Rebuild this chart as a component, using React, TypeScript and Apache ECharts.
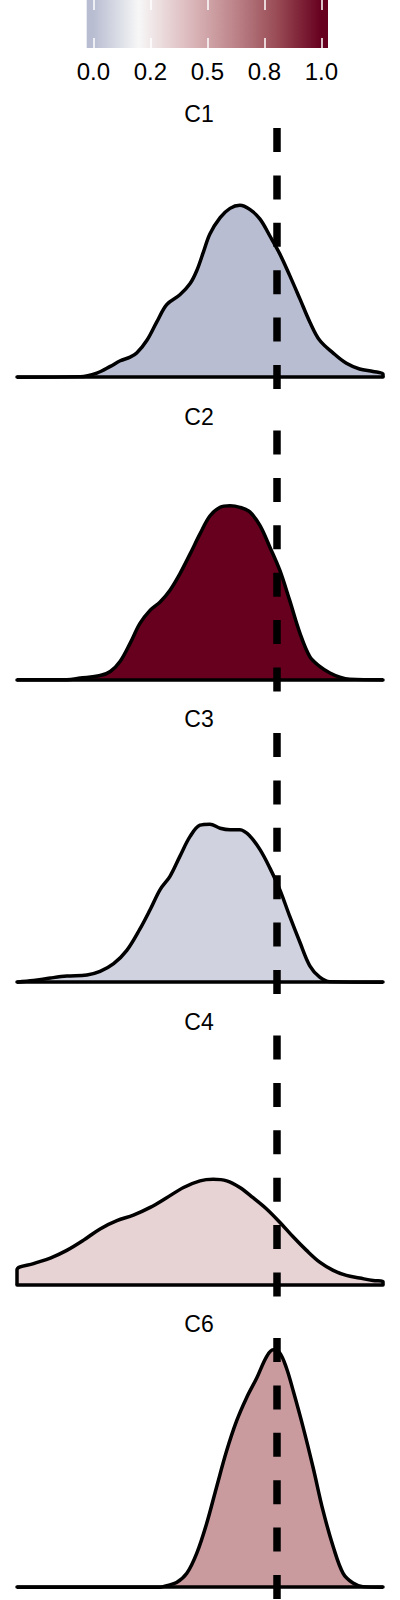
import React, { useEffect, useRef } from 'react'
import * as echarts from 'echarts'

// facet labels and the value each panel is coloured by
const panelNames = ['C1', 'C2', 'C3', 'C4', 'C6']
const panelFillValues = [0, 1, 0.076, 0.333, 0.54]

// density estimates, [x, density]
const c1Density = [
  [0.173, 0.01], [0.218, 0.08], [0.255, 0.21], [0.282, 0.32], [0.309, 0.39], [0.327, 0.47],
  [0.355, 0.72], [0.382, 1.08], [0.409, 1.42], [0.445, 1.61], [0.473, 1.83], [0.491, 2.08],
  [0.509, 2.44], [0.527, 2.8], [0.555, 3.12], [0.582, 3.3], [0.609, 3.36], [0.636, 3.28],
  [0.664, 3.09], [0.691, 2.76], [0.718, 2.41], [0.745, 1.99], [0.773, 1.53], [0.8, 1.08],
  [0.827, 0.72], [0.864, 0.47], [0.9, 0.27], [0.936, 0.16], [0.973, 0.11], [1.0, 0.06]
]
const c2Density = [
  [0.136, 0], [0.173, 0.03], [0.227, 0.08], [0.255, 0.16], [0.282, 0.36], [0.309, 0.71],
  [0.336, 1.1], [0.364, 1.36], [0.391, 1.52], [0.418, 1.75], [0.445, 2.07], [0.473, 2.46],
  [0.5, 2.85], [0.527, 3.2], [0.555, 3.37], [0.582, 3.4], [0.609, 3.37], [0.636, 3.28],
  [0.664, 3.01], [0.691, 2.59], [0.718, 2.14], [0.745, 1.55], [0.773, 0.91], [0.8, 0.45],
  [0.827, 0.26], [0.855, 0.13], [0.882, 0.05], [0.909, 0.01]
]
const c3Density = [
  [0.045, 0.03], [0.091, 0.08], [0.136, 0.12], [0.191, 0.14], [0.227, 0.21], [0.264, 0.36],
  [0.3, 0.62], [0.336, 1.04], [0.364, 1.42], [0.391, 1.81], [0.418, 2.07], [0.445, 2.46],
  [0.473, 2.85], [0.5, 3.07], [0.527, 3.09], [0.555, 3.01], [0.582, 2.98], [0.609, 2.98],
  [0.636, 2.86], [0.664, 2.59], [0.691, 2.23], [0.718, 1.81], [0.745, 1.29], [0.773, 0.78],
  [0.8, 0.32], [0.827, 0.1], [0.855, 0.01]
]
const c4Density = [
  [0, 0.29], [0.045, 0.41], [0.091, 0.52], [0.136, 0.67], [0.182, 0.87], [0.227, 1.09],
  [0.273, 1.25], [0.318, 1.36], [0.364, 1.51], [0.409, 1.7], [0.455, 1.9], [0.5, 2.03],
  [0.536, 2.06], [0.573, 2.03], [0.609, 1.9], [0.645, 1.7], [0.682, 1.48], [0.718, 1.22],
  [0.755, 0.93], [0.791, 0.67], [0.827, 0.44], [0.864, 0.28], [0.9, 0.18], [0.936, 0.13],
  [0.973, 0.08], [1.0, 0.06]
]
const c6Density = [
  [0.391, 0], [0.409, 0.03], [0.436, 0.09], [0.464, 0.27], [0.491, 0.66], [0.518, 1.24],
  [0.545, 1.95], [0.573, 2.67], [0.6, 3.25], [0.627, 3.7], [0.655, 4.09], [0.682, 4.51],
  [0.7, 4.64], [0.718, 4.58], [0.736, 4.29], [0.755, 3.83], [0.782, 3.12], [0.809, 2.34],
  [0.836, 1.5], [0.864, 0.79], [0.891, 0.27], [0.918, 0.08], [0.945, 0.01]
]
const panelDensities = [c1Density, c2Density, c3Density, c4Density, c6Density]

const xMin = 0
const xMax = 1
const densityMax = 4.64
const threshold = 0.706

// colour bar
const colorbarBreaks = [0, 0.25, 0.5, 0.75, 1]
const colorbarLabels = ['0.0', '0.2', '0.5', '0.8', '1.0']
const barMin = -0.029
const barMax = 1.029

const palette: [number, string][] = [
  [0, '#b8bdd1'],
  [0.2, '#f7f7f7'],
  [0.4, '#dfbfc2'],
  [0.6, '#c08a8f'],
  [0.8, '#9a4d56'],
  [1, '#67001f']
]

const FONT = '"Liberation Sans", Arial, Helvetica, sans-serif'

const hexToRgb = (h: string) => [1, 3, 5].map((i) => parseInt(h.slice(i, i + 2), 16))

const paletteColor = (v: number) => {
  const t = Math.max(0, Math.min(1, v))
  for (let i = 1; i < palette.length; i++) {
    const [v0, c0] = palette[i - 1]
    const [v1, c1] = palette[i]
    if (t <= v1) {
      const f = (t - v0) / (v1 - v0)
      const a = hexToRgb(c0)
      const b = hexToRgb(c1)
      const rgb = a.map((x, k) => Math.round(x + (b[k] - x) * f))
      return `rgb(${rgb.join(',')})`
    }
  }
  return palette[palette.length - 1][1]
}

const App: React.FC = () => {
  const chartRef = useRef<HTMLDivElement>(null)

  useEffect(() => {
    if (!chartRef.current) return
    const chart = echarts.init(chartRef.current, undefined, { renderer: 'svg' })

    const yMin = -0.05 * densityMax
    const yMax = 1.05 * densityMax
    const panelTop = 128
    const panelStep = 302.5
    const panelHeight = 261

    const gradientStops = [
      { offset: 0, color: palette[0][1] },
      ...palette.map(([v, c]) => ({ offset: (v - barMin) / (barMax - barMin), color: c })),
      { offset: 1, color: palette[palette.length - 1][1] }
    ]

    const tickStyle = {
      show: true,
      inside: true,
      length: 10,
      customValues: colorbarBreaks,
      lineStyle: { color: '#ffffff', width: 1.5 }
    }

    const option = {
      animation: false,
      backgroundColor: '#ffffff',
      grid: [
        { left: 86.7, top: 0, width: 241.3, height: 48 },
        ...panelNames.map((_, i) => ({
          left: 17,
          top: panelTop + i * panelStep,
          width: 366,
          height: panelHeight
        }))
      ],
      xAxis: [
        {
          gridIndex: 0,
          type: 'value',
          min: barMin,
          max: barMax,
          position: 'bottom',
          z: 5,
          axisLine: { show: false },
          splitLine: { show: false },
          axisTick: tickStyle,
          axisLabel: {
            customValues: colorbarBreaks,
            formatter: (v: number) => colorbarLabels[colorbarBreaks.indexOf(v)] ?? '',
            fontSize: 24,
            fontFamily: FONT,
            color: '#000000',
            margin: 11
          }
        },
        {
          gridIndex: 0,
          type: 'value',
          min: barMin,
          max: barMax,
          position: 'top',
          z: 5,
          axisLine: { show: false },
          splitLine: { show: false },
          axisTick: tickStyle,
          axisLabel: { show: false }
        },
        ...panelNames.map((_, i) => ({
          gridIndex: i + 1,
          type: 'value',
          min: xMin,
          max: xMax,
          z: 4,
          axisLine: { show: true, onZero: true, lineStyle: { color: '#000000', width: 3.5 } },
          axisTick: { show: false },
          axisLabel: { show: false },
          splitLine: { show: false }
        }))
      ],
      yAxis: [
        { gridIndex: 0, type: 'value', min: 0, max: 1, show: false },
        ...panelNames.map((_, i) => ({
          gridIndex: i + 1,
          type: 'value',
          min: yMin,
          max: yMax,
          axisLine: { show: false },
          axisTick: { show: false },
          axisLabel: { show: false },
          splitLine: { show: false }
        }))
      ],
      graphic: panelNames.map((name, i) => ({
        type: 'text',
        x: 199,
        y: 114 + i * panelStep,
        style: {
          text: name,
          align: 'center',
          verticalAlign: 'middle',
          fontSize: 23,
          fontFamily: FONT,
          fill: '#000000'
        }
      })),
      series: [
        {
          type: 'line',
          xAxisIndex: 0,
          yAxisIndex: 0,
          data: [[barMin, 1], [barMax, 1]],
          symbol: 'none',
          silent: true,
          lineStyle: { width: 0 },
          areaStyle: {
            opacity: 1,
            color: new echarts.graphic.LinearGradient(0, 0, 1, 0, gradientStops)
          }
        },
        ...panelNames.map((name, i) => ({
          name,
          type: 'line',
          xAxisIndex: i + 2,
          yAxisIndex: i + 1,
          data: [[xMin, 0], ...panelDensities[i], [xMax, 0]],
          symbol: 'none',
          smooth: 0.35,
          silent: true,
          lineStyle: { color: '#000000', width: 3.5 },
          areaStyle: { color: paletteColor(panelFillValues[i]), opacity: 1 },
          markLine: {
            symbol: 'none',
            silent: true,
            label: { show: false },
            lineStyle: { type: [24, 23.4], color: '#000000', width: 7.5 },
            data: [{ xAxis: threshold }]
          }
        }))
      ]
    }

    chart.setOption(option)

    return () => {
      chart.dispose()
    }
  }, [])

  return (
    <div
      ref={chartRef}
      style={{ position: 'absolute', left: 0, top: 0, width: '400px', height: '1600px' }}
    />
  )
}

export default App
